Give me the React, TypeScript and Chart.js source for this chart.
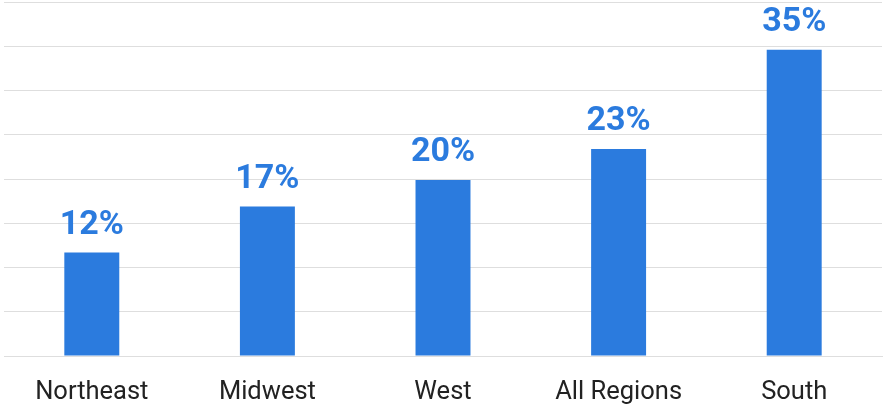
import React, { useEffect, useRef } from "react";
import { Chart, registerables } from "chart.js";

Chart.register(...registerables);

const categories = ["Northeast", "Midwest", "West", "All Regions", "South"];
const values = [11.7, 16.9, 19.9, 23.4, 34.6];
const valueLabels = ["12%", "17%", "20%", "23%", "35%"];
const yMax = 40;
const yStep = 5;

const BLUE = "#2b7bde";

const valueLabelPlugin = {
  id: "valueLabels",
  afterDatasetsDraw(chart: any) {
    const ctx = chart.ctx;
    const meta = chart.getDatasetMeta(0);
    ctx.save();
    ctx.font = "bold 34px Roboto";
    ctx.fillStyle = BLUE;
    ctx.textAlign = "center";
    ctx.textBaseline = "alphabetic";
    meta.data.forEach((bar: any, i: number) => {
      ctx.fillText(valueLabels[i], bar.x, bar.y - 18.5);
    });
    ctx.restore();
  },
};

export default function App() {
  const ref = useRef<HTMLCanvasElement>(null);
  useEffect(() => {
    if (!ref.current) return;
    const chart = new Chart(ref.current, {
      type: "bar",
      data: {
        labels: categories,
        datasets: [
          {
            data: values,
            backgroundColor: BLUE,
            borderWidth: 0,
            barPercentage: 0.313,
            categoryPercentage: 1,
          },
        ],
      },
      options: {
        animation: false,
        responsive: false,
        maintainAspectRatio: false,
        layout: { padding: { left: 4, right: 1, top: 2, bottom: 0 } },
        plugins: {
          legend: { display: false },
          tooltip: { enabled: false },
        },
        scales: {
          x: {
            grid: { display: false, drawTicks: false },
            border: { display: true, color: "#dedede", width: 1 },
            ticks: {
              color: "#222222",
              font: { family: "Roboto", size: 25.5 },
              padding: 21,
              maxRotation: 0,
              autoSkip: false,
            },
            afterFit: (scale: any) => {
              scale.height = 50;
            },
          },
          y: {
            min: 0,
            max: yMax,
            ticks: { display: false, stepSize: yStep },
            grid: { color: "#dedede", lineWidth: 1, drawTicks: false },
            border: { display: false },
            afterFit: (scale: any) => {
              scale.width = 0;
            },
          },
        },
      },
      plugins: [valueLabelPlugin],
    });
    return () => chart.destroy();
  }, []);
  return (
    <div style={{ position: "absolute", left: 0, top: 0, width: 883, height: 406 }}>
      <canvas ref={ref} width={883} height={406} style={{ width: 883, height: 406 }} />
    </div>
  );
}
